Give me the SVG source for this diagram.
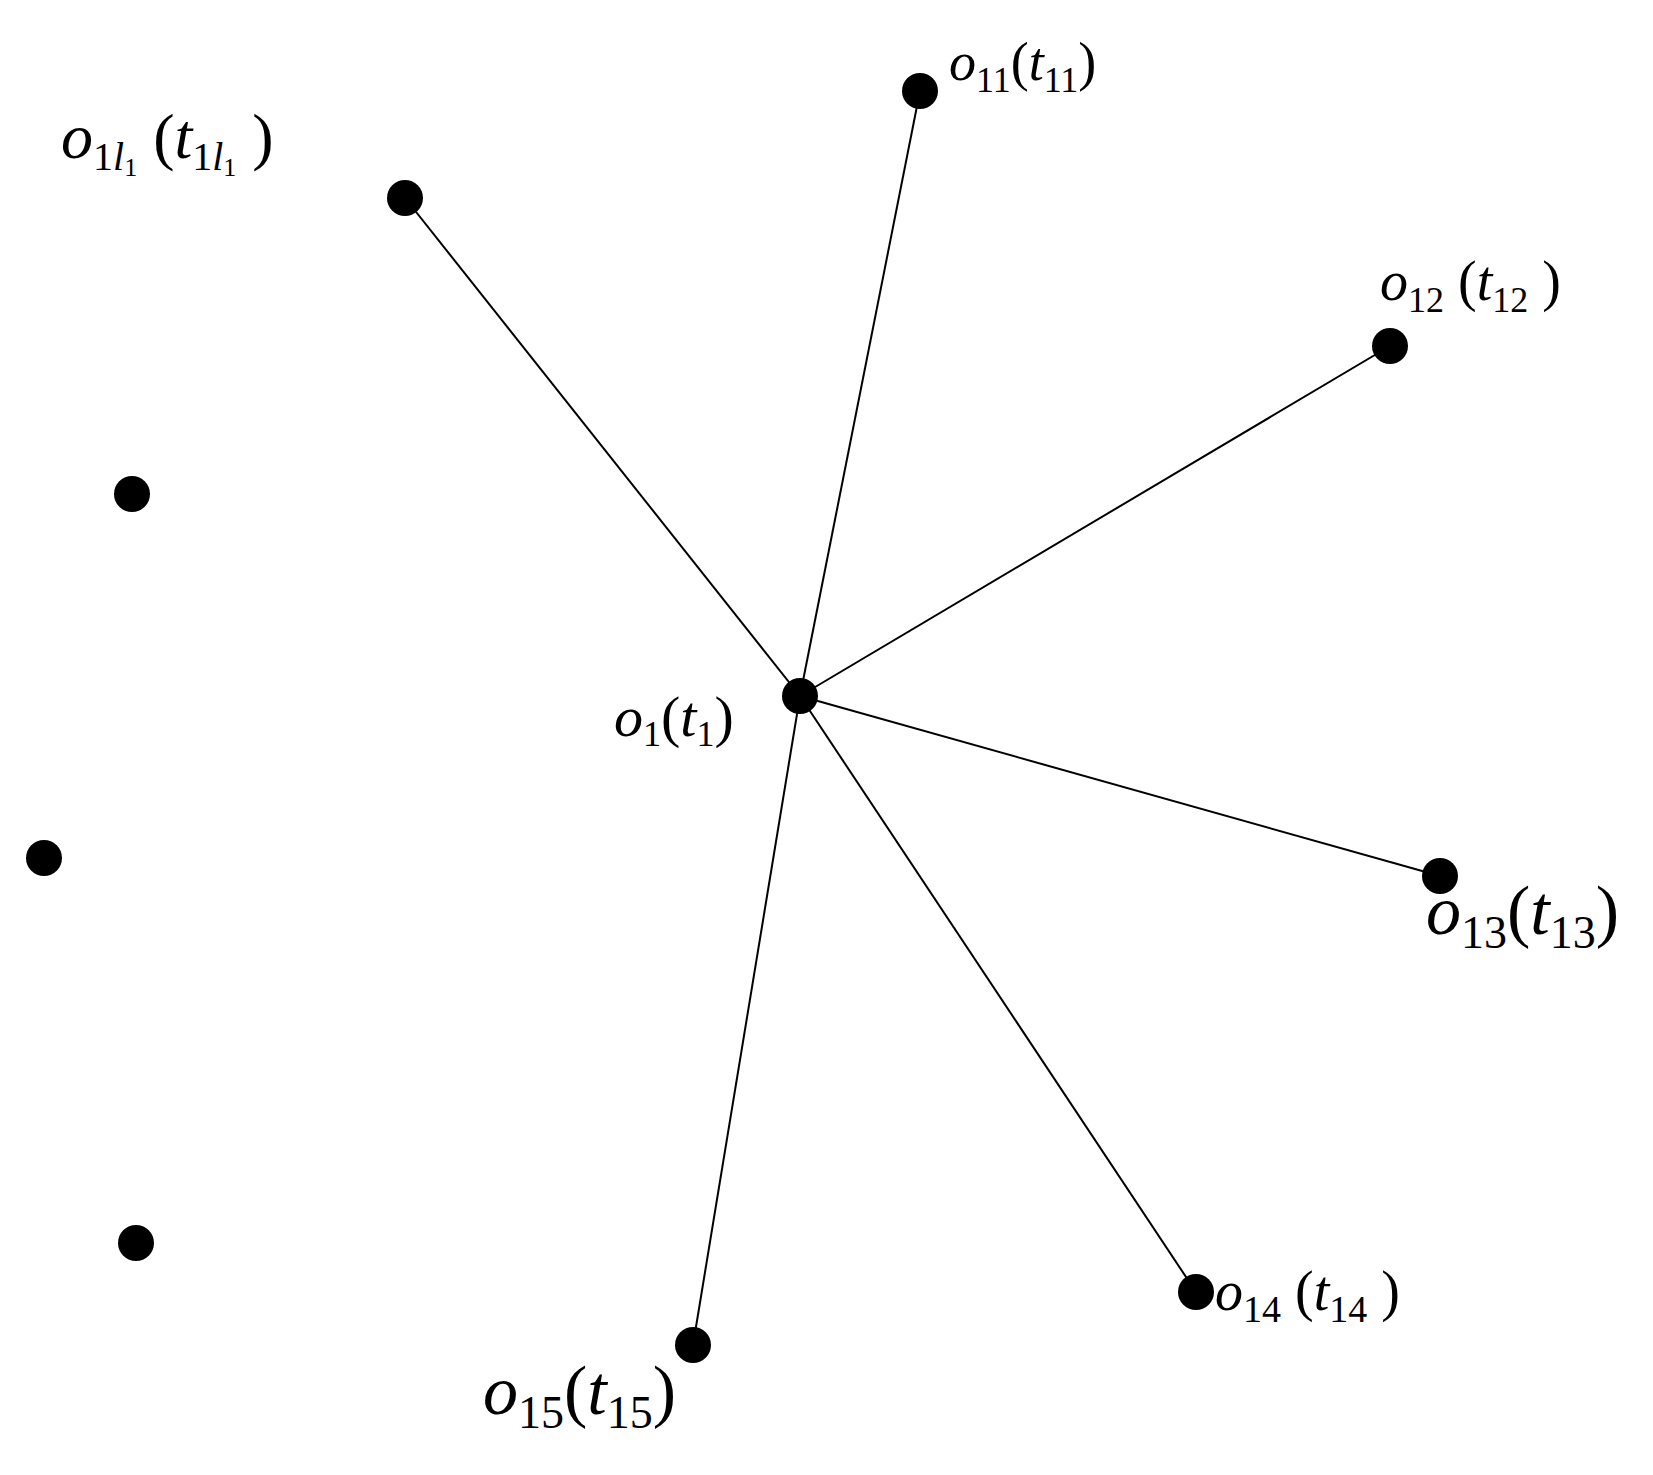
<svg xmlns="http://www.w3.org/2000/svg" width="1653" height="1475" viewBox="0 0 1653 1475">
<style>
.d{fill:#000}
.e{stroke:#000;stroke-width:2;fill:none}
text{font-family:"Liberation Serif","Times New Roman",serif;fill:#000}
.i{font-style:italic}
</style>
<rect width="1653" height="1475" fill="#fff"/>
<g id="connectors">
<line class="e" x1="800" y1="696" x2="920" y2="91"/>
<line class="e" x1="800" y1="696" x2="405" y2="198"/>
<line class="e" x1="800" y1="696" x2="1390" y2="346"/>
<line class="e" x1="800" y1="696" x2="1440" y2="876"/>
<line class="e" x1="800" y1="696" x2="1196" y2="1292"/>
<line class="e" x1="800" y1="696" x2="693" y2="1345"/>
</g>
<g id="o1"><circle class="d" cx="800" cy="696" r="18"/>
<text x="614" y="736" font-size="58"><tspan class="i">o</tspan><tspan font-size="36" dy="10">1</tspan><tspan dy="-10">(</tspan><tspan class="i">t</tspan><tspan font-size="36" dy="10">1</tspan><tspan dy="-10">)</tspan></text></g>
<g id="o11"><circle class="d" cx="920" cy="91" r="18"/>
<text x="949" y="80" font-size="54"><tspan class="i">o</tspan><tspan font-size="36" dy="12">11</tspan><tspan dy="-12">(</tspan><tspan class="i">t</tspan><tspan font-size="36" dy="12">11</tspan><tspan dy="-12">)</tspan></text></g>
<g id="o1l1"><circle class="d" cx="405" cy="198" r="18"/>
<text x="61" y="158" font-size="64"><tspan class="i">o</tspan><tspan font-size="40" dy="12">1</tspan><tspan font-size="40" class="i">l</tspan><tspan font-size="26" dy="6">1</tspan><tspan dy="-18">  (</tspan><tspan class="i">t</tspan><tspan font-size="40" dy="12">1</tspan><tspan font-size="40" class="i">l</tspan><tspan font-size="26" dy="6">1</tspan><tspan dy="-18">  )</tspan></text></g>
<g id="o12"><circle class="d" cx="1390" cy="346" r="18"/>
<text x="1380" y="300" font-size="56"><tspan class="i">o</tspan><tspan font-size="36" dy="12">12</tspan><tspan dy="-12"> (</tspan><tspan class="i">t</tspan><tspan font-size="36" dy="12">12</tspan><tspan dy="-12">  )</tspan></text></g>
<g id="o13"><circle class="d" cx="1440" cy="876" r="18"/>
<text x="1426" y="934" font-size="70"><tspan class="i">o</tspan><tspan font-size="46" dy="14">13</tspan><tspan dy="-14">(</tspan><tspan class="i">t</tspan><tspan font-size="46" dy="14">13</tspan><tspan dy="-14">)</tspan></text></g>
<g id="o14"><circle class="d" cx="1196" cy="1292" r="18"/>
<text x="1215" y="1310" font-size="56"><tspan class="i">o</tspan><tspan font-size="38" dy="12">14</tspan><tspan dy="-12"> (</tspan><tspan class="i">t</tspan><tspan font-size="38" dy="12">14</tspan><tspan dy="-12">  )</tspan></text></g>
<g id="o15"><circle class="d" cx="693" cy="1345" r="18"/>
<text x="483" y="1414" font-size="70"><tspan class="i">o</tspan><tspan font-size="46" dy="14">15</tspan><tspan dy="-14">(</tspan><tspan class="i">t</tspan><tspan font-size="46" dy="14">15</tspan><tspan dy="-14">)</tspan></text></g>
<g id="p1"><circle class="d" cx="132" cy="494" r="18"/></g>
<g id="p2"><circle class="d" cx="44" cy="858" r="18"/></g>
<g id="p3"><circle class="d" cx="136" cy="1243" r="18"/></g>
</svg>
